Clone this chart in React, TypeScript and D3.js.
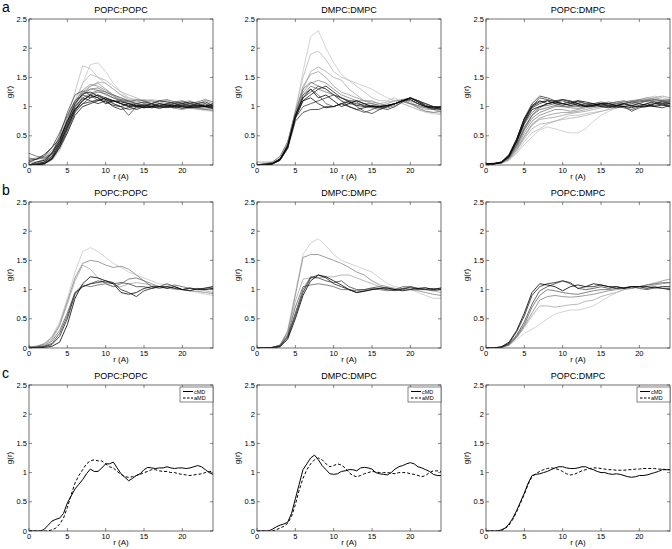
import React from 'react';
import * as d3 from 'd3';

// r grids (Angstrom)
const rCoarse = d3.range(0, 25, 1);
const rFine = d3.range(0, 24.5, 0.5);

const panelTitles = ['POPC:POPC', 'DMPC:DMPC', 'POPC:DMPC'];
const rowLetters = ['a', 'b', 'c'];
const xTicks = [0, 5, 10, 15, 20];
const yTicks = [0, 0.5, 1, 1.5, 2, 2.5];

// row a: all replicas, ordered light -> dark
const popcPopcAll = [
  [0,0,0.02,0.1,0.3,0.6,1.0,1.4,1.72,1.75,1.6,1.4,1.25,1.15,1.12,1.1,1.08,1.05,1.02,1.0,0.98,0.97,0.95,0.93,0.92],
  [0,0.02,0.05,0.15,0.4,0.8,1.25,1.7,1.65,1.5,1.4,1.3,1.2,1.15,1.1,1.05,1.05,1.02,1.0,1.0,0.98,0.97,0.98,0.96,0.95],
  [0,0,0.03,0.12,0.35,0.7,1.1,1.4,1.55,1.5,1.45,1.35,1.25,1.2,1.15,1.1,1.12,1.1,1.08,1.05,1.05,1.02,1.0,0.98,1.0],
  [0,0,0.02,0.08,0.25,0.55,0.9,1.2,1.35,1.42,1.4,1.3,1.2,1.12,1.1,1.1,1.05,1.08,1.05,1.02,1.0,1.02,1.0,0.98,0.97],
  [0.1,0.12,0.15,0.25,0.4,0.7,1.0,1.25,1.35,1.4,1.3,1.2,1.15,1.1,1.08,1.12,1.1,1.08,1.1,1.05,1.08,1.1,1.05,1.1,1.05],
  [0,0.03,0.08,0.18,0.42,0.78,1.08,1.28,1.38,1.35,1.28,1.2,1.12,1.08,1.05,1.08,1.1,1.05,1.02,1.0,1.02,1.05,1.08,1.05,1.02],
  [0.05,0.05,0.1,0.2,0.45,0.8,1.1,1.25,1.3,1.28,1.2,1.15,1.1,1.05,1.0,1.02,1.0,0.98,1.0,0.97,0.95,0.98,0.96,0.95,0.93],
  [0,0.02,0.05,0.15,0.4,0.75,1.05,1.2,1.3,1.32,1.25,1.18,1.1,1.05,1.05,1.0,1.03,1.05,1.02,1.05,1.02,1.0,1.02,1.05,1.0],
  [0.12,0.1,0.12,0.22,0.38,0.68,0.98,1.15,1.22,1.28,1.25,1.2,1.15,1.1,1.05,1.0,0.98,1.0,1.05,1.08,1.05,1.02,0.98,0.95,0.97],
  [0.2,0.15,0.12,0.2,0.35,0.65,0.95,1.1,1.2,1.25,1.22,1.15,1.1,1.08,1.12,1.1,1.05,1.1,1.12,1.08,1.1,1.05,1.08,1.12,1.08],
  [0,0.02,0.04,0.12,0.32,0.62,0.92,1.12,1.18,1.15,1.1,1.08,1.12,1.1,1.05,1.02,1.0,1.02,1.05,1.02,1.0,0.98,1.0,1.02,1.0],
  [0,0,0.05,0.2,0.5,0.9,1.2,1.27,1.2,1.1,1.15,1.05,1.0,0.85,1.0,1.05,1.02,1.0,1.05,1.08,1.05,1.02,1.0,1.05,0.98],
  [0.05,0.1,0.15,0.3,0.55,0.85,1.1,1.2,1.15,1.2,1.12,1.05,1.0,0.95,0.98,1.02,1.05,1.0,1.02,1.05,1.08,1.05,1.02,1.0,1.0],
  [0,0,0.02,0.1,0.3,0.6,0.9,1.05,1.15,1.2,1.15,1.1,1.05,1.0,1.02,1.0,0.98,1.0,1.02,1.0,1.03,1.05,1.02,1.0,0.98],
  [0,0.02,0.05,0.15,0.38,0.7,1.0,1.15,1.1,1.05,1.1,1.0,0.95,0.98,1.05,1.08,1.05,1.1,1.08,1.05,1.0,1.02,1.05,1.08,1.02],
  [0.08,0.1,0.18,0.3,0.45,0.75,0.95,1.05,1.08,1.12,1.08,1.02,1.0,1.05,1.0,0.98,1.0,1.02,1.0,0.98,1.02,1.0,0.98,1.02,1.0],
  [0,0,0.03,0.1,0.3,0.55,0.85,1.0,1.05,1.1,1.15,1.1,1.05,1.0,0.95,1.0,1.05,1.0,0.98,1.02,1.05,1.08,1.05,1.0,1.02],
  [0,0.05,0.08,0.2,0.42,0.75,1.05,1.22,1.25,1.18,1.12,1.1,1.05,1.02,1.0,1.03,1.0,0.97,1.0,1.02,1.0,0.98,1.0,1.0,0.97],
  [0,0,0.02,0.12,0.35,0.65,0.95,1.1,1.2,1.15,1.05,1.1,1.08,1.05,1.02,0.98,1.0,1.05,1.03,1.0,0.97,1.0,1.03,1.0,1.05],
];

const dmpcDmpcAll = [
  [0,0,0.02,0.08,0.3,0.9,1.6,2.2,2.3,2.0,1.75,1.55,1.45,1.4,1.35,1.3,1.22,1.15,1.1,1.05,1.0,0.95,0.9,0.88,0.86],
  [0,0.03,0.03,0.1,0.35,0.95,1.5,1.9,1.95,1.8,1.6,1.5,1.45,1.35,1.25,1.15,1.1,1.1,1.15,1.05,1.0,0.95,0.92,0.9,0.88],
  [0,0,0.02,0.1,0.3,0.85,1.3,1.6,1.68,1.6,1.5,1.45,1.3,1.2,1.1,1.1,1.05,1.08,1.1,1.12,1.08,1.0,0.95,0.95,0.9],
  [0.05,0.05,0.05,0.12,0.38,0.9,1.35,1.55,1.6,1.5,1.35,1.25,1.2,1.15,1.1,1.05,1.02,1.05,1.1,1.12,1.05,1.0,0.98,0.95,0.92],
  [0,0,0.03,0.1,0.33,0.85,1.25,1.4,1.45,1.4,1.3,1.2,1.15,1.1,1.1,1.08,1.05,1.02,1.05,1.1,1.1,1.05,1.0,0.98,0.95],
  [0,0,0.02,0.1,0.3,0.8,1.2,1.35,1.3,1.25,1.2,1.1,1.05,1.02,1.05,1.0,1.0,0.98,1.02,1.08,1.05,0.98,0.92,0.9,0.92],
  [0,0.02,0.05,0.15,0.4,0.9,1.3,1.42,1.35,1.3,1.2,1.15,1.1,1.1,1.05,1.05,1.02,1.0,1.05,1.1,1.05,1.02,0.98,0.95,0.97],
  [0,0,0.02,0.08,0.3,0.85,1.2,1.3,1.2,1.05,1.0,1.05,1.1,1.08,1.0,0.98,0.95,1.0,1.05,1.12,1.15,1.08,1.02,0.98,0.95],
  [0,0,0.03,0.1,0.35,0.85,1.15,1.25,1.35,1.3,1.2,1.1,1.0,0.95,0.9,0.95,1.0,1.02,1.05,1.1,1.12,1.05,1.0,0.95,0.97],
  [0,0,0.02,0.1,0.3,0.8,1.0,1.05,1.1,1.15,1.2,1.15,1.1,1.0,0.92,0.88,0.95,1.0,1.05,1.1,1.15,1.1,1.05,1.0,0.97],
  [0,0,0.02,0.08,0.28,0.75,0.9,0.95,0.95,1.0,1.0,1.05,1.08,1.05,1.02,1.0,0.98,0.95,1.0,1.08,1.15,1.1,1.05,1.0,1.0],
  [0,0.02,0.03,0.1,0.33,0.8,1.1,1.2,1.3,1.35,1.25,1.15,1.08,1.02,1.0,1.0,0.98,1.0,1.05,1.1,1.15,1.1,1.02,0.98,0.95],
  [0,0,0.02,0.08,0.3,0.82,1.1,1.15,1.05,0.98,1.0,1.05,1.0,0.95,0.98,1.02,1.0,1.02,1.05,1.1,1.12,1.05,1.0,1.0,0.98],
  [0,0,0.02,0.1,0.32,0.85,1.15,1.3,1.15,1.2,1.1,1.0,1.05,1.1,1.05,1.0,1.0,1.02,1.05,1.1,1.15,1.08,1.0,0.97,1.0],
];

const popcDmpcAll = [
  [0.02,0.02,0.03,0.08,0.2,0.35,0.48,0.6,0.65,0.62,0.58,0.55,0.55,0.62,0.75,0.85,0.92,0.98,1.02,1.05,1.1,1.15,1.15,1.12,1.1],
  [0.02,0.02,0.03,0.08,0.22,0.4,0.55,0.62,0.7,0.75,0.8,0.85,0.85,0.88,0.9,0.92,0.95,1.0,1.05,1.08,1.12,1.15,1.18,1.15,1.12],
  [0.02,0.02,0.03,0.1,0.25,0.45,0.62,0.7,0.72,0.75,0.78,0.8,0.82,0.85,0.88,0.92,0.95,0.98,1.02,1.05,1.1,1.12,1.15,1.12,1.1],
  [0.02,0.02,0.03,0.1,0.26,0.48,0.68,0.78,0.8,0.82,0.85,0.88,0.9,0.92,0.95,0.98,1.0,1.02,1.05,1.08,1.1,1.12,1.15,1.18,1.15],
  [0.02,0.02,0.03,0.1,0.28,0.5,0.7,0.8,0.85,0.88,0.9,0.9,0.92,0.95,0.98,1.0,1.02,1.05,1.08,1.1,1.12,1.15,1.12,1.1,1.12],
  [0.02,0.02,0.04,0.12,0.3,0.55,0.75,0.85,0.9,0.95,0.95,0.92,0.95,0.98,1.0,1.02,1.05,1.08,1.05,1.08,1.1,1.12,1.1,1.08,1.1],
  [0.02,0.02,0.04,0.12,0.32,0.6,0.8,0.9,0.95,1.0,1.0,0.98,0.97,1.0,1.02,1.05,1.03,1.05,1.08,1.1,1.08,1.1,1.12,1.1,1.08],
  [0.02,0.02,0.04,0.14,0.35,0.65,0.85,0.95,0.98,1.02,1.0,1.0,1.02,1.0,1.0,1.05,1.08,1.05,1.05,1.08,1.12,1.08,1.05,1.1,1.12],
  [0.02,0.02,0.05,0.15,0.38,0.7,0.9,1.0,1.02,1.05,1.05,1.02,1.0,1.03,1.05,1.05,1.05,1.08,1.1,1.05,1.08,1.1,1.12,1.1,1.08],
  [0.02,0.02,0.04,0.13,0.34,0.62,0.85,0.98,1.05,1.08,1.05,1.08,1.05,1.02,1.05,1.08,1.05,1.02,1.05,1.08,1.05,1.1,1.08,1.05,1.08],
  [0.02,0.02,0.04,0.15,0.4,0.75,1.0,1.15,1.12,1.08,1.1,1.05,1.08,1.05,1.02,1.0,1.02,1.0,0.98,0.95,1.0,1.02,1.05,1.05,1.0],
  [0.02,0.02,0.05,0.18,0.45,0.8,1.05,1.18,1.15,1.1,1.05,1.08,1.1,1.05,1.05,1.02,1.0,0.98,1.0,0.92,0.98,1.0,1.02,1.05,1.05],
  [0.01,0.02,0.04,0.15,0.42,0.75,0.98,1.05,1.1,1.1,1.12,1.1,1.05,1.02,1.0,1.05,1.02,1.0,1.05,1.02,1.0,1.05,1.08,1.02,1.05],
  [0.02,0.02,0.05,0.16,0.43,0.78,1.02,1.1,1.05,1.08,1.12,1.08,1.02,1.0,1.03,1.05,1.0,1.02,1.0,0.98,1.02,1.05,1.0,0.98,1.02],
  [0.02,0.03,0.05,0.17,0.44,0.8,1.0,1.08,1.1,1.05,1.02,1.05,1.1,1.08,1.05,1.0,0.98,1.02,1.05,1.0,1.0,1.0,1.05,1.08,1.05],
  [0.01,0.02,0.04,0.14,0.4,0.72,0.95,1.0,1.05,1.08,1.05,1.02,1.05,1.0,1.02,1.05,1.05,1.02,1.0,1.02,1.05,1.02,1.0,1.03,1.0],
];

// row b: selected runs, ordered light -> dark
const popcPopcSel = [
  [0.02,0.03,0.08,0.2,0.45,0.85,1.3,1.65,1.72,1.65,1.55,1.45,1.38,1.3,1.25,1.2,1.15,1.1,1.08,1.05,1.0,0.98,0.95,0.92,0.9],
  [0.02,0.03,0.06,0.15,0.38,0.75,1.15,1.42,1.35,1.2,1.1,1.05,1.05,1.1,1.12,1.1,1.08,1.05,1.03,1.0,1.0,1.02,1.0,0.98,0.95],
  [0.02,0.03,0.07,0.18,0.4,0.8,1.2,1.45,1.5,1.48,1.42,1.38,1.4,1.35,1.25,1.15,1.1,1.05,1.05,1.02,1.0,0.98,0.97,0.95,0.93],
  [0.01,0.02,0.04,0.12,0.3,0.6,0.95,1.08,1.05,1.08,1.1,1.05,1.1,1.18,1.2,1.15,1.05,1.02,1.05,1.08,1.05,1.02,1.0,1.0,1.02],
  [0,0.01,0.03,0.08,0.25,0.55,0.95,1.05,1.1,1.15,1.12,1.1,1.12,1.1,1.05,1.05,1.02,1.05,1.1,1.05,1.0,1.02,1.0,1.03,1.05],
  [0,0.01,0.02,0.06,0.2,0.5,0.92,1.05,1.1,1.12,1.15,1.12,1.0,0.95,0.88,0.98,1.02,1.05,1.05,1.02,1.0,1.03,1.0,1.02,1.05],
  [0,0,0.01,0.03,0.1,0.4,0.85,1.1,1.22,1.2,1.15,1.1,0.95,0.92,0.95,1.02,1.05,1.05,1.02,1.05,1.0,0.98,1.02,1.0,1.02],
];

const dmpcDmpcSel = [
  [0,0,0.01,0.05,0.3,0.95,1.6,1.8,1.87,1.75,1.6,1.5,1.45,1.4,1.35,1.3,1.2,1.1,1.05,1.02,1.0,0.95,0.9,0.85,0.85],
  [0,0,0.01,0.05,0.25,0.8,1.18,1.2,1.2,1.22,1.22,1.25,1.25,1.2,1.15,1.1,1.05,1.03,1.0,1.02,1.05,1.02,1.0,0.98,0.95],
  [0,0,0.01,0.05,0.28,0.9,1.55,1.6,1.6,1.55,1.5,1.45,1.38,1.3,1.25,1.15,1.08,1.05,1.02,1.0,1.0,0.98,0.95,0.92,0.9],
  [0,0,0.01,0.04,0.22,0.7,1.05,1.08,1.1,1.08,1.05,1.0,1.0,0.98,1.0,1.02,1.0,0.98,1.0,1.05,1.05,1.02,1.03,1.0,1.02],
  [0,0,0.01,0.04,0.2,0.6,1.0,1.22,1.2,1.15,1.12,1.15,1.05,1.0,1.0,1.03,1.05,1.02,1.0,1.0,1.05,1.02,1.0,0.98,1.0],
  [0,0,0.01,0.03,0.18,0.55,0.95,1.2,1.25,1.2,1.1,1.05,1.0,0.95,0.98,1.0,1.02,1.0,0.98,1.02,1.03,1.0,1.0,1.02,1.0],
  [0,0,0,0.02,0.15,0.5,0.9,1.15,1.25,1.22,1.15,1.08,1.0,0.95,0.97,1.0,1.02,1.03,1.0,0.98,1.0,1.02,1.03,1.0,1.03],
];

const popcDmpcSel = [
  [0,0,0.01,0.04,0.15,0.25,0.32,0.4,0.5,0.58,0.62,0.65,0.65,0.68,0.72,0.8,0.88,0.95,1.0,1.02,1.05,1.08,1.12,1.15,1.18],
  [0,0,0.01,0.05,0.18,0.35,0.55,0.72,0.72,0.7,0.72,0.74,0.75,0.8,0.82,0.88,0.92,0.95,1.0,1.02,1.05,1.08,1.1,1.15,1.18],
  [0,0,0.01,0.05,0.18,0.38,0.6,0.82,0.88,0.9,0.88,0.87,0.88,0.9,0.92,0.95,0.98,1.0,1.02,1.02,1.05,1.05,1.08,1.1,1.12],
  [0,0,0.01,0.06,0.2,0.4,0.7,0.9,1.0,0.98,0.95,0.93,0.92,0.95,0.98,1.0,1.0,1.02,1.03,1.05,1.05,1.08,1.1,1.12,1.12],
  [0,0,0.01,0.07,0.22,0.45,0.75,0.98,1.05,1.1,1.15,1.1,1.02,1.0,1.02,1.05,1.02,1.05,1.03,1.05,1.02,1.0,1.03,1.02,1.02],
  [0,0,0.02,0.08,0.28,0.55,0.9,1.05,1.1,1.12,1.15,1.12,1.02,1.05,1.05,1.08,1.05,1.02,1.03,1.05,1.05,1.02,1.05,1.02,1.0],
  [0,0,0.02,0.1,0.3,0.6,0.95,1.1,1.08,1.05,0.98,1.05,1.08,1.05,1.1,1.08,1.05,1.05,1.02,1.05,1.05,1.05,1.03,1.05,1.05],
];

// row c: cMD vs aMD averages (0.5 A steps)
const popcPopcCMD = [0,0,0,0,0.03,0.1,0.17,0.2,0.22,0.3,0.48,0.6,0.72,0.8,0.88,0.98,1.06,1.02,1.02,1.08,1.15,1.15,1.18,1.08,0.98,0.92,0.86,0.9,0.95,0.98,1.05,1.09,1.08,1.07,1.08,1.08,1.1,1.08,1.07,1.08,1.08,1.07,1.08,1.1,1.12,1.1,1.05,1.0,0.97];
const popcPopcAMD = [0,0,0,0,0,0,0.02,0.05,0.12,0.22,0.4,0.62,0.82,0.95,1.05,1.15,1.2,1.22,1.2,1.2,1.15,1.1,1.08,1.02,0.97,0.93,0.92,0.93,0.95,0.97,1.0,1.02,1.05,1.05,1.03,1.02,1.02,1.0,1.0,0.98,0.97,0.96,0.95,0.96,0.97,0.98,1.0,1.02,1.02];
const dmpcDmpcCMD = [0,0,0,0,0.03,0.07,0.1,0.12,0.15,0.3,0.55,0.8,1.05,1.15,1.25,1.3,1.22,1.12,1.05,0.98,0.97,0.98,1.02,1.03,1.05,1.05,1.03,1.08,1.09,1.08,1.06,1.0,0.98,0.97,0.96,1.0,1.06,1.1,1.12,1.15,1.17,1.15,1.1,1.08,1.05,1.02,0.97,0.95,0.95];
const dmpcDmpcAMD = [0,0,0,0,0,0.02,0.05,0.08,0.13,0.25,0.45,0.7,0.9,1.05,1.15,1.22,1.25,1.22,1.15,1.1,1.12,1.15,1.13,1.08,1.0,0.95,0.93,0.95,0.98,1.0,1.02,1.01,1.0,1.0,1.0,0.99,0.98,1.0,1.0,1.0,0.98,0.97,0.95,0.93,0.95,1.0,1.03,1.03,1.02];
const popcDmpcCMD = [0,0,0,0,0.02,0.05,0.12,0.22,0.35,0.5,0.65,0.82,0.95,0.97,0.98,1.0,1.02,1.05,1.08,1.1,1.1,1.08,1.07,1.07,1.08,1.1,1.1,1.07,1.05,1.02,1.0,1.0,0.98,0.97,0.98,0.97,0.95,0.93,0.92,0.93,0.95,0.95,0.96,0.98,1.0,1.02,1.05,1.05,1.05];
const popcDmpcAMD = [0,0,0,0,0.01,0.04,0.1,0.2,0.33,0.48,0.63,0.8,0.93,0.98,1.02,1.05,1.07,1.08,1.07,1.05,1.02,0.98,0.96,0.97,1.0,1.03,1.05,1.07,1.08,1.08,1.07,1.06,1.05,1.05,1.04,1.04,1.04,1.05,1.05,1.06,1.06,1.07,1.07,1.07,1.07,1.06,1.06,1.05,1.05];

const legendLabels = ['cMD', 'aMD'];

const colLeft = [29, 257, 486];
const rowTop = [19, 202, 385];
const plotW = 184;
const plotH = 146;
const font = 'Liberation Sans, Arial, Helvetica, sans-serif';

interface PanelProps {
  left: number;
  top: number;
  title: string;
  r: number[];
  series: number[][];
  shaded?: boolean;
  legend?: boolean;
}

const Panel: React.FC<PanelProps> = ({ left, top, title, r, series, shaded, legend }) => {
  const x = d3.scaleLinear().domain([0, 24]).range([left, left + plotW]);
  const y = d3.scaleLinear().domain([0, 2.5]).range([top + plotH, top]);
  const line = d3.line<number>()
    .defined((_, i) => i < r.length)
    .x((_, i) => x(r[i]))
    .y(d => y(d));
  const gray = d3.interpolateRgb('#c8c8c8', '#000000');
  const tk = 3;
  const right = left + plotW;
  const bottom = top + plotH;

  return (
    <g fontFamily={font}>
      <text x={(left + right) / 2} y={top - 6} textAnchor="middle" fontSize={9}>{title}</text>
      <defs>
        <clipPath id={`clip-${left}-${top}`}>
          <rect x={left} y={top} width={plotW} height={plotH} />
        </clipPath>
      </defs>
      <g clipPath={`url(#clip-${left}-${top})`}>
        {series.map((s, i) => (
          <path
            key={i}
            d={line(s) || ''}
            fill="none"
            stroke={shaded ? gray(series.length > 1 ? i / (series.length - 1) : 1) : '#000'}
            strokeWidth={shaded ? 0.8 : 1}
            strokeDasharray={!shaded && i === 1 ? '3,2' : undefined}
          />
        ))}
      </g>
      <rect x={left} y={top} width={plotW} height={plotH} fill="none" stroke="#333" strokeWidth={0.7} />
      {xTicks.map(t => (
        <g key={`x${t}`}>
          <line x1={x(t)} x2={x(t)} y1={bottom} y2={bottom - tk} stroke="#333" strokeWidth={0.6} />
          <line x1={x(t)} x2={x(t)} y1={top} y2={top + tk} stroke="#333" strokeWidth={0.6} />
          <text x={x(t)} y={bottom + 8} textAnchor="middle" fontSize={7.5}>{t}</text>
        </g>
      ))}
      {yTicks.map(t => (
        <g key={`y${t}`}>
          <line x1={left} x2={left + tk} y1={y(t)} y2={y(t)} stroke="#333" strokeWidth={0.6} />
          <line x1={right} x2={right - tk} y1={y(t)} y2={y(t)} stroke="#333" strokeWidth={0.6} />
          <text x={left - 2} y={y(t) + 2.5} textAnchor="end" fontSize={7.5}>{t}</text>
        </g>
      ))}
      <text x={(left + right) / 2} y={bottom + 14} textAnchor="middle" fontSize={8}>r (A)</text>
      <text
        transform={`translate(${left - 17},${(top + bottom) / 2}) rotate(-90)`}
        textAnchor="middle"
        fontSize={8}
      >g(r)</text>
      {legend && (
        <g>
          <rect x={right - 33} y={top + 2} width={33} height={15} fill="#fff" stroke="#333" strokeWidth={0.6} />
          {legendLabels.map((lab, i) => (
            <g key={lab}>
              <line
                x1={right - 30} x2={right - 20}
                y1={top + 6.5 + i * 6.5} y2={top + 6.5 + i * 6.5}
                stroke="#000" strokeWidth={1}
                strokeDasharray={i === 1 ? '2.5,1.5' : undefined}
              />
              <text x={right - 19} y={top + 8.5 + i * 6.5} fontSize={5.5}>{lab}</text>
            </g>
          ))}
        </g>
      )}
    </g>
  );
};

export default function App() {
  const rowA = [popcPopcAll, dmpcDmpcAll, popcDmpcAll];
  const rowB = [popcPopcSel, dmpcDmpcSel, popcDmpcSel];
  const rowC = [[popcPopcCMD, popcPopcAMD], [dmpcDmpcCMD, dmpcDmpcAMD], [popcDmpcCMD, popcDmpcAMD]];
  return (
    <svg
      width={672}
      height={549}
      viewBox="0 0 672 549"
      style={{ position: 'absolute', left: 0, top: 0, background: '#fff' }}
    >
      <rect width={672} height={549} fill="#fff" />
      {rowLetters.map((l, i) => (
        <text key={l} x={2} y={rowTop[i] - 7} fontSize={14} fontFamily={font}>{l}</text>
      ))}
      {rowA.map((s, i) => (
        <Panel key={`a${i}`} left={colLeft[i]} top={rowTop[0]} title={panelTitles[i]} r={rCoarse} series={s} shaded />
      ))}
      {rowB.map((s, i) => (
        <Panel key={`b${i}`} left={colLeft[i]} top={rowTop[1]} title={panelTitles[i]} r={rCoarse} series={s} shaded />
      ))}
      {rowC.map((s, i) => (
        <Panel key={`c${i}`} left={colLeft[i]} top={rowTop[2]} title={panelTitles[i]} r={rFine} series={s} legend />
      ))}
    </svg>
  );
}
